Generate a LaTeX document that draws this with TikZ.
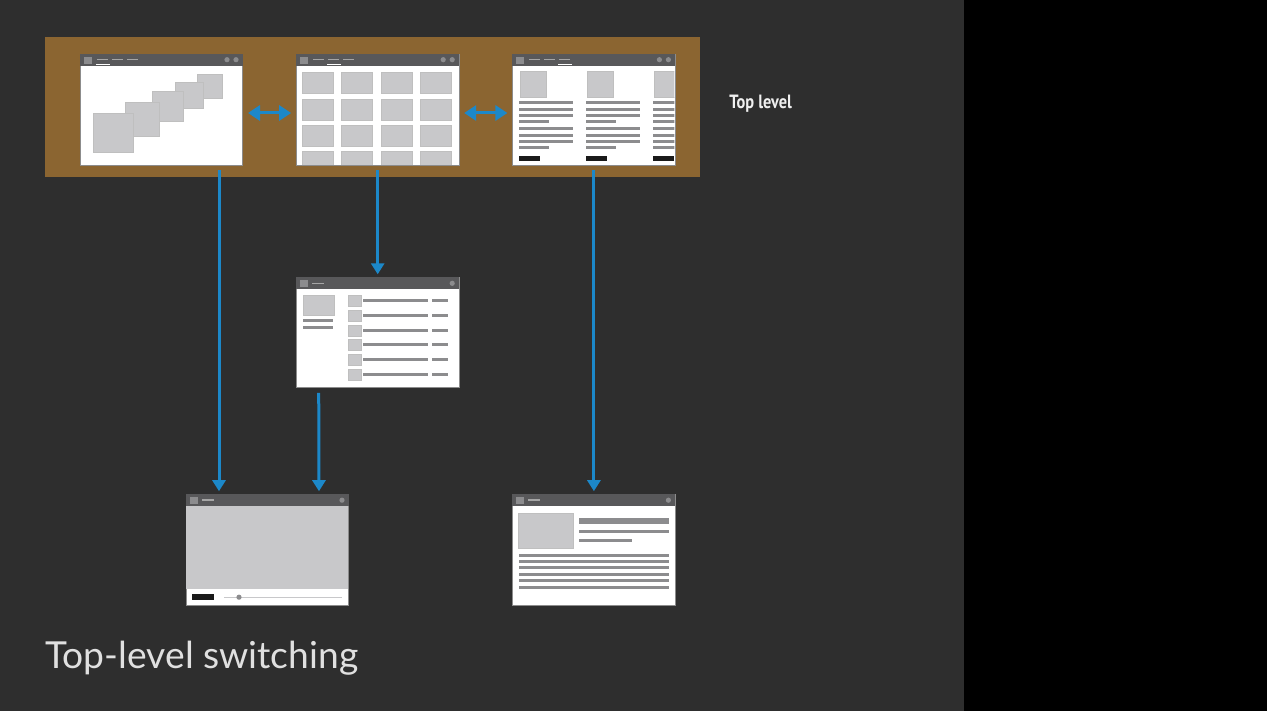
\documentclass[tikz,border=0pt]{standalone}
\usepackage{fontspec}
\usetikzlibrary{positioning, arrows.meta}
\newfontfamily\titlefont{Lato}
\newfontfamily\labelfont{PT Sans}[FakeStretch=0.85]
\definecolor{slate}{HTML}{2E2E2E}
\definecolor{band}{HTML}{8B6531}
\definecolor{flowblue}{HTML}{1C88C9}
\definecolor{barGray}{HTML}{58585A}
\definecolor{boxGray}{HTML}{C8C8CA}
\definecolor{lineGray}{HTML}{8C8C8E}
\definecolor{btnBlack}{HTML}{1A1A1A}

\begin{document}
\begin{tikzpicture}[x=0.5pt, y=-0.5pt,
  screen/.style={fill=white, draw=black!45, line width=0.3pt, inner sep=0pt, minimum width=81.2pt, minimum height=55.5pt},
  flow/.style={draw=flowblue, line width=1.5pt, -{Triangle[width=6.5pt,length=5.5pt]}, shorten <=2.5pt, shorten >=1.5pt},
  swap/.style={draw=flowblue, line width=1.5pt, {Triangle[width=7.5pt,length=6pt]}-{Triangle[width=7.5pt,length=6pt]}, shorten <=2.5pt, shorten >=2.5pt},
  tile/.style={fill=boxGray, draw=black!25, line width=0.3pt},
  txt/.style={draw=lineGray, line width=1.5pt},
  bar/.style={fill=barGray},
  dot/.style={fill=lineGray}]
  % background and top-level band
  \fill[black] (0,0) rectangle (1267,711);
  \fill[slate] (0,0) rectangle (964,711);
  \fill[band] (45,37) rectangle (700,177);

  % screens
  \node[screen] (home) at (161.5,109.5) {};
  \node[screen, right=26.6pt of home] (grid) {};
  \node[screen, right=26.6pt of grid] (cards) {};
  \node[screen, below=56pt of grid, minimum height=55pt] (list) {};
  \node[screen] (video) at (267.5,550) {};
  \node[screen] (detail) at (cards |- video) {};

  % home: cascading tiles
  \begin{scope}[shift={(home.north west)}]
    \foreach \a/\b/\c/\d in {117/21/142/45, 95/29/123/55, 72/38/103/68, 45/49/79/83, 13/60/53/99}
      \filldraw[tile] (\a,\b) rectangle (\c,\d);
  \end{scope}

  % grid of tiles
  \begin{scope}[shift={(grid.north west)}]
    \clip (0,12) rectangle (163,111);
    \foreach \i in {0,...,3} \foreach \j in {0,...,3}
      \filldraw[tile] (6+39.3*\i, 19+26.3*\j) rectangle ++(31,21);
  \end{scope}

  % cards
  \begin{scope}[shift={(cards.north west)}]
    \clip (0,12) rectangle (162,111);
    \foreach \cx in {7,74,141} {
      \filldraw[tile] (\cx+1,18) rectangle (\cx+27,44);
      \foreach \ly/\lw in {49/54,56/54,62/54,68/30,75/54,82/54,88/54,94/30}
        \draw[txt] (\cx,\ly) -- ++(\lw,0);
      \fill[btnBlack] (\cx,102) rectangle ++(21,5);
    }
  \end{scope}

  % list
  \begin{scope}[shift={(list.north west)}]
    \filldraw[tile] (7,18) rectangle (38,38);
    \draw[txt] (7,43) -- (37,43) (7,50) -- (37,50);
    \foreach \y in {23,38,53,67,82,97} {
      \filldraw[tile] (52,\y-5.5) rectangle (65,\y+5.5);
      \draw[txt] (67,\y) -- (132,\y) (136,\y) -- (152,\y);
    }
  \end{scope}

  % video player
  \begin{scope}[shift={(video.north west)}]
    \fill[boxGray] (0,12) rectangle (162,95);
    \fill[btnBlack] (6,100) rectangle (28,106);
    \draw[boxGray, line width=0.6pt] (38,103) -- (156,103);
    \fill[lineGray] (53,103) circle[radius=1.3pt];
  \end{scope}

  % detail page
  \begin{scope}[shift={(detail.north west)}]
    \filldraw[tile] (6,19) rectangle (61,54);
    \draw[txt, line width=3pt] (67,27) -- (157,27);
    \draw[txt] (67,37) -- (157,37) (67,46) -- (120,46);
    \foreach \y in {61,67,73,80,86,93}
      \draw[txt] (7,\y) -- (157,\y);
  \end{scope}

  % title bars
  \foreach \s in {home,grid,cards,list,video,detail} {
    \fill[bar] (\s.north west) rectangle ([yshift=-6pt]\s.north east);
    \fill[dot] ([xshift=2pt,yshift=-1.5pt]\s.north west) rectangle ++(4pt,-3.5pt);
    \fill[dot] ([xshift=-3.5pt,yshift=-3pt]\s.north east) circle[radius=1.3pt];
  }
  \foreach \s in {home,grid,cards}
    \fill[dot] ([xshift=-8pt,yshift=-3pt]\s.north east) circle[radius=1.3pt];
  \foreach \s/\t in {home/0,grid/1,cards/2} {
    \foreach \k in {0,1,2}
      \draw[black!35, line width=0.8pt] ([xshift=8.5pt+7.5pt*\k, yshift=-3pt]\s.north west) -- ++(5.5pt,0);
    \draw[white, line width=0.5pt] ([xshift=8pt+7.5pt*\t, yshift=-5.3pt]\s.north west) -- ++(7pt,0);
  }
  \foreach \s in {list,video,detail}
    \draw[black!35, line width=0.8pt] ([xshift=8pt, yshift=-3pt]\s.north west) -- ++(6pt,0);

  % connectors
  \draw[swap] ([yshift=-1.75pt]home.east) -- ([yshift=-1.75pt]grid.west);
  \draw[swap] ([yshift=-1.75pt]grid.east) -- ([yshift=-1.75pt]cards.west);
  \draw[flow] ([xshift=28.75pt]home.south) -- ([xshift=-24.25pt]video.north);
  \draw[flow] (grid.south) -- (list.north);
  \draw[flow] ([xshift=-29.5pt]list.south) -- ([xshift=25.75pt]video.north);
  \draw[flow] (cards.south) -- (detail.north);

  % labels
  \node[text=white!94!black, font=\labelfont\bfseries\fontsize{9.6}{11}\selectfont, anchor=west, inner sep=0pt] (toplabel) at (729,104) {Top level};
  \node[text=white!88!black, font=\titlefont\fontsize{18.6}{21}\selectfont, anchor=base west, inner sep=0pt] (title) at (45,668) {Top-level switching};
\end{tikzpicture}
\end{document}
